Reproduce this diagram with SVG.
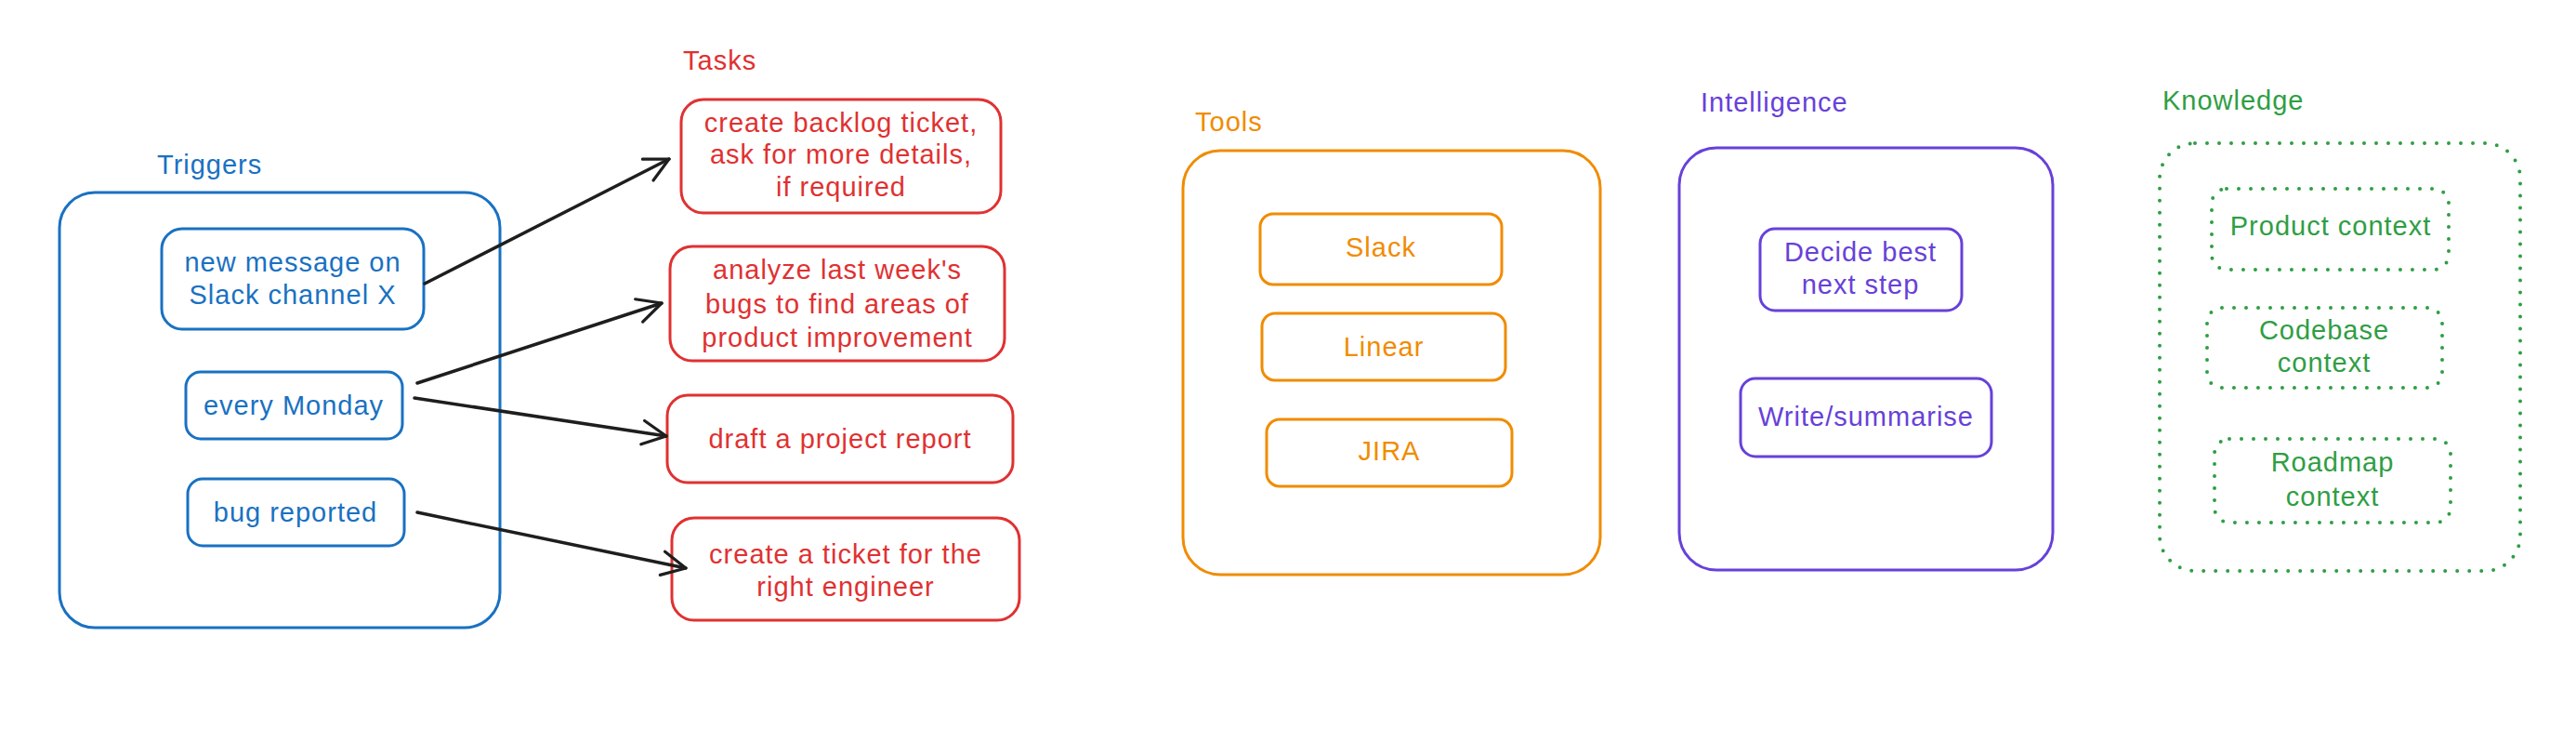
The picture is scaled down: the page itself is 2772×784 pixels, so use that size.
<svg xmlns="http://www.w3.org/2000/svg" width="2772" height="784" viewBox="0 0 2772 784">
<defs>
<style>
text{font-family:"Liberation Sans","DejaVu Sans",sans-serif;font-size:29px;letter-spacing:1px;text-anchor:middle}
.lbl{text-anchor:start}
.box{fill:none;stroke-width:3;stroke-linejoin:round}
.blue{stroke:#1971c2}.tblue{fill:#1971c2}
.red{stroke:#e03131}.tred{fill:#e03131}
.orange{stroke:#f08c00}.torange{fill:#f08c00}
.violet{stroke:#6741d9}.tviolet{fill:#6741d9}
.green{stroke:#2f9e44;stroke-dasharray:0 13;stroke-linecap:round;stroke-width:4}.tgreen{fill:#2f9e44}
.conn{fill:none;stroke:#1e1e1e;stroke-width:3.5;stroke-linecap:round;stroke-linejoin:round}
</style>
<marker id="arr" viewBox="0 0 20 20" refX="18" refY="10" markerWidth="32" markerHeight="32" markerUnits="userSpaceOnUse" orient="auto">
<path d="M2 2 L18 10 L2 18" fill="none" stroke="#1e1e1e" stroke-width="2" stroke-linecap="round" stroke-linejoin="round"/>
</marker>
</defs>
<rect width="2772" height="784" fill="#ffffff"/>

<g id="triggers">
<text class="lbl tblue" x="169" y="187">Triggers</text>
<rect class="box blue" x="64" y="207" width="474" height="468" rx="38"/>
</g>
<g id="trigger-slack">
<rect class="box blue" x="174" y="246" width="282" height="108" rx="22"/>
<text class="tblue" x="315" y="292">new message on</text>
<text class="tblue" x="315" y="327">Slack channel X</text>
</g>
<g id="trigger-monday">
<rect class="box blue" x="200" y="400" width="233" height="72" rx="16"/>
<text class="tblue" x="316" y="446">every Monday</text>
</g>
<g id="trigger-bug">
<rect class="box blue" x="202" y="515" width="233" height="72" rx="16"/>
<text class="tblue" x="318" y="561">bug reported</text>
</g>

<g id="tasks">
<text class="lbl tred" x="735" y="75">Tasks</text>
</g>
<g id="task-backlog">
<rect class="box red" x="733" y="107" width="344" height="122" rx="24"/>
<text class="tred" x="905" y="142">create backlog ticket,</text>
<text class="tred" x="905" y="176">ask for more details,</text>
<text class="tred" x="905" y="211">if required</text>
</g>
<g id="task-analyze">
<rect class="box red" x="721" y="265" width="360" height="123" rx="24"/>
<text class="tred" x="901" y="300">analyze last week's</text>
<text class="tred" x="901" y="337">bugs to find areas of</text>
<text class="tred" x="901" y="373">product improvement</text>
</g>
<g id="task-report">
<rect class="box red" x="718" y="425" width="372" height="94" rx="22"/>
<text class="tred" x="904" y="482">draft a project report</text>
</g>
<g id="task-ticket">
<rect class="box red" x="723" y="557" width="374" height="110" rx="24"/>
<text class="tred" x="910" y="606">create a ticket for the</text>
<text class="tred" x="910" y="641">right engineer</text>
</g>

<g id="connectors">
<path class="conn" d="M457 305 L720 171" marker-end="url(#arr)"/>
<path class="conn" d="M449 412 L712 326" marker-end="url(#arr)"/>
<path class="conn" d="M446 428 L717 469" marker-end="url(#arr)"/>
<path class="conn" d="M449 551 L738 611" marker-end="url(#arr)"/>
</g>

<g id="tools">
<text class="lbl torange" x="1286" y="141">Tools</text>
<rect class="box orange" x="1273" y="162" width="449" height="456" rx="40"/>
</g>
<g id="tool-slack">
<rect class="box orange" x="1356" y="230" width="260" height="76" rx="14"/>
<text class="torange" x="1486" y="276">Slack</text>
</g>
<g id="tool-linear">
<rect class="box orange" x="1358" y="337" width="262" height="72" rx="14"/>
<text class="torange" x="1489" y="383">Linear</text>
</g>
<g id="tool-jira">
<rect class="box orange" x="1363" y="451" width="264" height="72" rx="14"/>
<text class="torange" x="1495" y="495">JIRA</text>
</g>

<g id="intelligence">
<text class="lbl tviolet" x="1830" y="120">Intelligence</text>
<rect class="box violet" x="1807" y="159" width="402" height="454" rx="40"/>
</g>
<g id="intel-decide">
<rect class="box violet" x="1894" y="246" width="217" height="88" rx="16"/>
<text class="tviolet" x="2002" y="281">Decide best</text>
<text class="tviolet" x="2002" y="316">next step</text>
</g>
<g id="intel-write">
<rect class="box violet" x="1873" y="407" width="270" height="84" rx="16"/>
<text class="tviolet" x="2008" y="458">Write/summarise</text>
</g>

<g id="knowledge">
<text class="lbl tgreen" x="2327" y="118">Knowledge</text>
<rect class="box green" x="2324" y="154" width="388" height="460" rx="38"/>
</g>
<g id="know-product">
<rect class="box green" x="2380" y="203" width="255" height="87" rx="16"/>
<text class="tgreen" x="2508" y="253">Product context</text>
</g>
<g id="know-codebase">
<rect class="box green" x="2375" y="331" width="253" height="86" rx="16"/>
<text class="tgreen" x="2501" y="365">Codebase</text>
<text class="tgreen" x="2501" y="400">context</text>
</g>
<g id="know-roadmap">
<rect class="box green" x="2383" y="472" width="254" height="90" rx="16"/>
<text class="tgreen" x="2510" y="507">Roadmap</text>
<text class="tgreen" x="2510" y="544">context</text>
</g>
</svg>
